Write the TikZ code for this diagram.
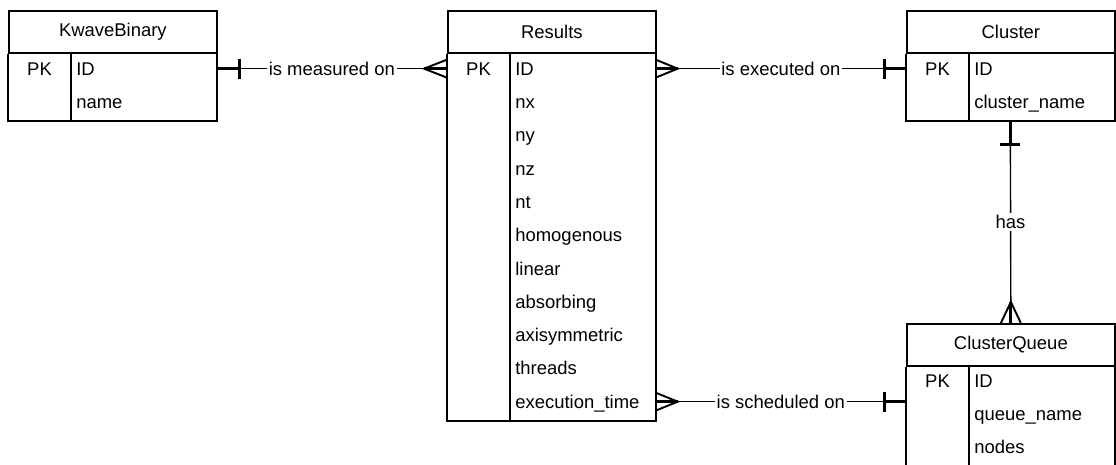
\documentclass[tikz,border=0pt]{standalone}
\usepackage{fontspec}
\setmainfont{Liberation Sans}
\usetikzlibrary{positioning}

\begin{document}
\begin{tikzpicture}[x=0.02cm, y=-0.02cm, font=\fontsize{10.5}{12.6}\selectfont]
    % 样式
    \tikzset{
        head/.style={draw, line width=1pt, minimum width=4.16cm, minimum height=0.84cm, inner sep=0pt, anchor=north west},
        body/.style={minimum width=4.16cm, inner sep=0pt, anchor=north west},
        frame/.style={line width=1pt},
        key/.style={inner sep=0pt, text height=7.5pt, text depth=0pt},
        field/.style={anchor=west, inner sep=0pt, text height=7.5pt, text depth=0pt},
        rel/.style={line width=0.8pt},
        bold/.style={line width=1.7pt},
        prong/.style={line width=1.1pt},
        lbl/.style={fill=white, inner sep=1pt},
    }

    % 画布大小
    \useasboundingbox (0,0) rectangle (1116,464);

    % KwaveBinary 表
    \node[head] (kb-h) at (8,10) {KwaveBinary};
    \node[body, minimum height=1.332cm] (kb) at (kb-h.south west) {};
    \draw[frame] (kb.north west) |- (kb.south east) -- (kb.north east);
    \draw[frame] ([xshift=1.26cm]kb.north west) -- ([xshift=1.26cm]kb.south west);
    \node[key] (kb-pk) at (39.5,68.6) {PK};
    \foreach \f [count=\i] in {ID,name} {
        \node[field] (kb-\i) at (76,{52+33.3*\i-16.65}) {\f};
    }

    % Results 表
    \node[head] (res-h) at (447,10) {Results};
    \node[body, minimum height=7.326cm] (res) at (res-h.south west) {};
    \draw[frame] (res.north west) |- (res.south east) -- (res.north east);
    \draw[frame] ([xshift=1.26cm]res.north west) -- ([xshift=1.26cm]res.south west);
    \node[key] (res-pk) at (478.5,68.6) {PK};
    \foreach \f [count=\i] in {ID,nx,ny,nz,nt,homogenous,linear,absorbing,axisymmetric,threads,execution\_time} {
        \node[field] (res-\i) at (515,{52+33.3*\i-16.65}) {\f};
    }

    % Cluster 表
    \node[head] (cl-h) at (906,10) {Cluster};
    \node[body, minimum height=1.332cm] (cl) at (cl-h.south west) {};
    \draw[frame] (cl.north west) |- (cl.south east) -- (cl.north east);
    \draw[frame] ([xshift=1.26cm]cl.north west) -- ([xshift=1.26cm]cl.south west);
    \node[key] (cl-pk) at (937.5,68.6) {PK};
    \foreach \f [count=\i] in {ID,cluster\_name} {
        \node[field] (cl-\i) at (974,{52+33.3*\i-16.65}) {\f};
    }

    % ClusterQueue 表 (下边缘在画布外)
    \node[head] (cq-h) at (906,323) {ClusterQueue};
    \node[body, minimum height=2.1cm] (cq) at (cq-h.south west) {};
    \draw[frame] (cq.north west) |- (cq.south east) -- (cq.north east);
    \draw[frame] ([xshift=1.26cm]cq.north west) -- ([xshift=1.26cm]cq.south west);
    \node[key] (cq-pk) at (937.5,380.6) {PK};
    \foreach \f [count=\i] in {ID,queue\_name,nodes} {
        \node[field] (cq-\i) at (974,{364+33.3*\i-16.65}) {\f};
    }

    % KwaveBinary -- Results
    \draw[rel] (kb.east |- kb-1) -- node[lbl] {is measured on} (res.west |- res-1);
    \draw[bold] (kb.east |- kb-1) -- ++(23,0) ++(0,-10) -- ++(0,20);
    \draw[bold] (res.west |- res-1) -- ++(-23,0);
    \draw[prong] (res.west |- res-1) ++(0,-9) -- ++(-23,9) -- ++(23,9);

    % Results -- Cluster
    \draw[rel] (res.east |- res-1) -- node[lbl] {is executed on} (cl.west |- cl-1);
    \draw[bold] (res.east |- res-1) -- ++(22,0);
    \draw[prong] (res.east |- res-1) ++(0,-9) -- ++(22,9) -- ++(-22,9);
    \draw[bold] (cl.west |- cl-1) -- ++(-22,0) ++(0,-10) -- ++(0,20);

    % Cluster -- ClusterQueue
    \draw[rel] (cl.south) -- node[lbl] {has} (cq-h.north);
    \draw[bold] (cl.south) -- ++(0,23) ++(-10,0) -- ++(20,0);
    \draw[bold] (cq-h.north) -- ++(0,-21);
    \draw[prong] (cq-h.north) ++(-10,0) -- ++(10,-21) -- ++(10,21);

    % Results -- ClusterQueue
    \draw[rel] (res.east |- res-11) -- node[lbl] {is scheduled on} (cq.west |- res-11);
    \draw[bold] (res.east |- res-11) -- ++(22,0);
    \draw[prong] (res.east |- res-11) ++(0,-9) -- ++(22,9) -- ++(-22,9);
    \draw[bold] (cq.west |- res-11) -- ++(-22,0) ++(0,-10) -- ++(0,20);
\end{tikzpicture}
\end{document}
